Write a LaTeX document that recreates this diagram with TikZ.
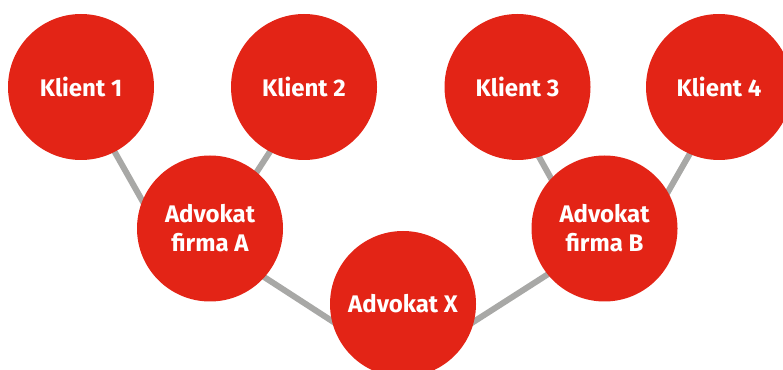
\documentclass[tikz,border=0pt]{standalone}
\usepackage{fontspec}
\setmainfont{Fira Sans}
\usetikzlibrary{backgrounds}
\definecolor{kred}{RGB}{227,36,22}
\definecolor{kgray}{RGB}{168,168,166}
\begin{document}
\begin{tikzpicture}[x=1pt,y=1pt,line cap=butt,font=\bfseries\fontsize{24}{29}\selectfont]
	\tikzset{ball/.style={circle,fill=kred,text=white,minimum size=146pt,inner sep=0pt,align=center},
		link/.style={draw=kgray,line width=6pt}}
	\useasboundingbox (0,0) rectangle (783,369);
	\clip (0,0) rectangle (783,369);
	\foreach \n/\x in {1/81,2/304,3/517.5,4/719}
	\node[ball] (klient\n) at (\x,282) {Klient \n};
	\node[ball] (firmaA) at (210,140.5) {Advokat\\firma A};
	\node[ball] (firmaB) at (604.5,140.5) {Advokat\\firma B};
	\node[ball] (advX) at (403,65) {Advokat X};
	\begin{pgfonlayer}{background}
		\draw[link] ([xshift=-3]klient1.center) -- ([xshift=-52]firmaA.center);
		\draw[link] ([xshift=8]klient2.center) -- ([xshift=10]firmaA.center);
		\draw[link] ([xshift=-17.5]klient3.center) -- ([xshift=-25.5]firmaB.center);
		\draw[link] ([xshift=9]klient4.center) -- ([xshift=42.5]firmaB.center);
		\draw[link] ([yshift=-13.5]firmaA.center) -- ([yshift=-63]advX.center);
		\draw[link] ([yshift=-63]advX.center) -- ([yshift=-9.5]firmaB.center);
	\end{pgfonlayer}
\end{tikzpicture}
\end{document}
